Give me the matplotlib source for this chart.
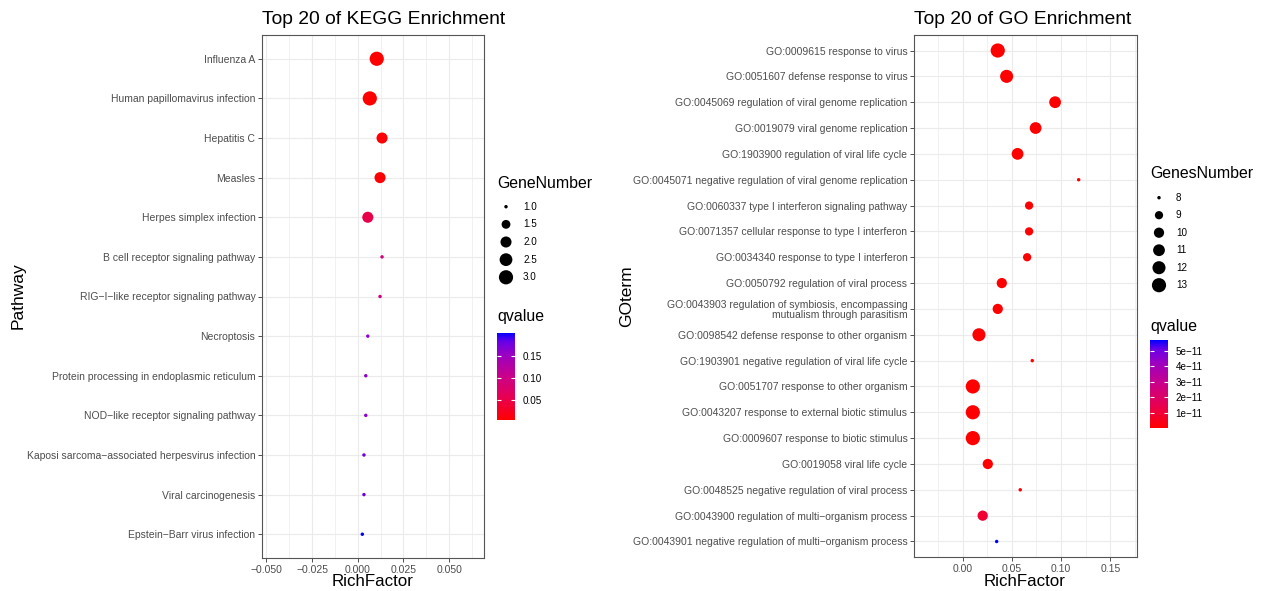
import numpy as np
import matplotlib
matplotlib.use("Agg")
import matplotlib.pyplot as plt
from matplotlib.colors import LinearSegmentedColormap, Normalize
from matplotlib.cm import ScalarMappable
from matplotlib.ticker import NullLocator

plt.rcParams["font.family"] = ["Liberation Sans", "DejaVu Sans"]

# KEGG pathways, listed top to bottom
kegg_pathways = [
    "Influenza A",
    "Human papillomavirus infection",
    "Hepatitis C",
    "Measles",
    "Herpes simplex infection",
    "B cell receptor signaling pathway",
    "RIG\u2212I\u2212like receptor signaling pathway",
    "Necroptosis",
    "Protein processing in endoplasmic reticulum",
    "NOD\u2212like receptor signaling pathway",
    "Kaposi sarcoma\u2212associated herpesvirus infection",
    "Viral carcinogenesis",
    "Epstein\u2212Barr virus infection",
]
kegg_rich = [0.0104, 0.0066, 0.0133, 0.0122, 0.0055, 0.0133, 0.0122,
             0.0055, 0.0044, 0.0044, 0.0034, 0.0034, 0.0025]
kegg_genes = [3, 3, 2, 2, 2, 1, 1, 1, 1, 1, 1, 1, 1]
kegg_q = [0.0055, 0.0062, 0.0089, 0.0094, 0.0520, 0.0930, 0.0950,
          0.1600, 0.1620, 0.1620, 0.1800, 0.1800, 0.2026]
kegg_size_keys = [1.0, 1.5, 2.0, 2.5, 3.0]
kegg_q_ticks = [0.05, 0.10, 0.15]

# GO terms, listed top to bottom
go_terms = [
    "GO:0009615 response to virus",
    "GO:0051607 defense response to virus",
    "GO:0045069 regulation of viral genome replication",
    "GO:0019079 viral genome replication",
    "GO:1903900 regulation of viral life cycle",
    "GO:0045071 negative regulation of viral genome replication",
    "GO:0060337 type I interferon signaling pathway",
    "GO:0071357 cellular response to type I interferon",
    "GO:0034340 response to type I interferon",
    "GO:0050792 regulation of viral process",
    "GO:0043903 regulation of symbiosis, encompassing\nmutualism through parasitism",
    "GO:0098542 defense response to other organism",
    "GO:1903901 negative regulation of viral life cycle",
    "GO:0051707 response to other organism",
    "GO:0043207 response to external biotic stimulus",
    "GO:0009607 response to biotic stimulus",
    "GO:0019058 viral life cycle",
    "GO:0048525 negative regulation of viral process",
    "GO:0043900 regulation of multi\u2212organism process",
    "GO:0043901 negative regulation of multi\u2212organism process",
]
go_rich = [0.0357, 0.0447, 0.0939, 0.0741, 0.0558, 0.1178, 0.0675, 0.0675,
           0.0655, 0.0398, 0.0357, 0.0166, 0.0707, 0.0104, 0.0104, 0.0104,
           0.0256, 0.0585, 0.0204, 0.0346]
go_genes = [13, 12, 11, 11, 11, 8, 9, 9, 9, 10, 10, 12, 8, 13, 13, 13,
            10, 8, 10, 8]
go_q = [3.2e-20, 1.1e-18, 2.4e-17, 6.8e-17, 1.9e-16, 4.3e-16, 7.7e-16,
        9.1e-16, 1.4e-15, 3.6e-15, 8.2e-15, 2.0e-14, 5.3e-14, 9.9e-14,
        1.6e-13, 3.0e-13, 5.7e-13, 1.3e-12, 8.8e-12, 5.71e-11]
go_size_keys = [8, 9, 10, 11, 12, 13]
go_q_ticks = [1e-11, 2e-11, 3e-11, 4e-11, 5e-11]

W, H, DPI = 1266, 591, 100
TEXT = "#4D4D4D"
GRID = "#EBEBEB"

# red to blue through Lab space, like ggplot's default gradient
qcmap = LinearSegmentedColormap.from_list(
    "qvalue",
    [(0.0, "#FF0000"), (0.25, "#E80050"), (0.5, "#CA0089"),
     (0.75, "#9A00C2"), (0.9, "#6800E7"), (1.0, "#0000FF")],
)


def px_box(x0, y0, x1, y1):
    return [x0 / W, 1 - y1 / H, (x1 - x0) / W, (y1 - y0) / H]


def dot_area(n, lo, hi):
    # area-proportional sizes over 1..6 plus the outline stroke, in points^2
    size = 1 + 5 * np.sqrt((np.asarray(n, float) - lo) / (hi - lo))
    d_px = 2.15 * size + 1.3
    return (d_px * 72 / DPI) ** 2


def draw_panel(box, labels, rich, genes, qvals, xlim, major, minor, fmt):
    ax = fig.add_axes(px_box(*box))
    y = np.arange(len(labels))
    norm = Normalize(min(qvals), max(qvals))
    ax.scatter(rich, y, s=dot_area(genes, min(genes), max(genes)),
               c=qvals, cmap=qcmap, norm=norm, linewidths=0, zorder=3)
    ax.set_xlim(*xlim)
    ax.set_ylim(len(labels) - 0.4, -0.6)
    ax.set_xticks(major)
    ax.set_xticklabels([fmt.format(v).replace("-", "\u2212") for v in major])
    ax.set_xticks(minor, minor=True)
    ax.set_yticks(y)
    ax.set_yticklabels(labels)
    ax.yaxis.set_minor_locator(NullLocator())
    for lab in ax.get_yticklabels():
        lab.set_linespacing(0.95)
    ax.set_axisbelow(True)
    ax.grid(which="major", color=GRID, lw=0.8)
    ax.grid(which="minor", axis="x", color=GRID, lw=0.5)
    ax.tick_params(which="major", length=2.9, width=0.6, color="#333333",
                   labelsize=7.45, labelcolor=TEXT, pad=1.8)
    ax.tick_params(which="minor", length=0)
    for sp in ax.spines.values():
        sp.set_color("#555555")
        sp.set_linewidth(0.8)
    return norm


def draw_legend(x0, title_y, keys, key_y0, step, q_title_y, bar, norm,
                ticks, tick_labels, size_title):
    over.text(x0, title_y, size_title, fontsize=11.4, va="center", ha="left")
    ky = key_y0 + step * np.arange(len(keys))
    over.scatter(np.full(len(keys), x0 + 9), ky,
                 s=dot_area(keys, min(keys), max(keys)), color="black",
                 linewidths=0)
    for k, yy in zip(keys, ky):
        lab = "{:.1f}".format(k) if isinstance(k, float) else str(k)
        over.text(x0 + 26, yy, lab, fontsize=7.1, va="center", ha="left")
    over.text(x0, q_title_y, "qvalue", fontsize=11.4, va="center", ha="left")
    cax = fig.add_axes(px_box(*bar))
    cb = fig.colorbar(ScalarMappable(norm=norm, cmap=qcmap), cax=cax)
    cb.outline.set_visible(False)
    cb.set_ticks(ticks)
    cb.set_ticklabels(tick_labels)
    cax.minorticks_off()
    cax.tick_params(direction="in", length=3.2, width=0.8, color="white",
                    left=True, right=True, labelsize=7.1, labelcolor="black",
                    pad=5.5)


fig = plt.figure(figsize=(W / DPI, H / DPI), dpi=DPI)

# overlay in pixel units for titles, axis titles and legends
over = fig.add_axes([0, 0, 1, 1], zorder=5)
over.set_xlim(0, W)
over.set_ylim(H, 0)
over.axis("off")
over.patch.set_alpha(0)

kegg_box = (262, 35, 484, 558)
go_box = (914, 35, 1136.6, 557)

kegg_norm = draw_panel(kegg_box, kegg_pathways, kegg_rich, kegg_genes, kegg_q,
                       (-0.0524, 0.0691),
                       [-0.05, -0.025, 0.0, 0.025, 0.05],
                       [-0.0375, -0.0125, 0.0125, 0.0375, 0.0625], "{:.3f}")
go_norm = draw_panel(go_box, go_terms, go_rich, go_genes, go_q,
                     (-0.0493, 0.1766),
                     [0.0, 0.05, 0.10, 0.15],
                     [-0.025, 0.025, 0.075, 0.125, 0.175], "{:.2f}")

over.text(262, 24.5, "Top 20 of KEGG Enrichment", fontsize=13.9,
          ha="left", va="baseline")
over.text(914, 24.5, "Top 20 of GO Enrichment", fontsize=13.9,
          ha="left", va="baseline")
over.text(18, 296, "Pathway", fontsize=12.5, rotation=90,
          ha="center", va="center")
over.text(627, 296, "GOterm", fontsize=12.5, rotation=90,
          ha="center", va="center")
over.text(373, 582, "RichFactor", fontsize=12.2, ha="center", va="center")
over.text(1025, 582, "RichFactor", fontsize=12.2, ha="center", va="center")

draw_legend(497, 183, kegg_size_keys, 206.7, 17.65, 316.7,
            (497, 332.7, 515, 420), kegg_norm, kegg_q_ticks,
            ["0.05", "0.10", "0.15"], "GeneNumber")
draw_legend(1150, 173.3, go_size_keys, 197.7, 17.5, 326.7,
            (1150, 340, 1168, 428), go_norm, go_q_ticks,
            ["{:.0e}".format(t).replace("-", "\u2212") for t in go_q_ticks],
            "GenesNumber")

fig.savefig("out.png", dpi=DPI)
